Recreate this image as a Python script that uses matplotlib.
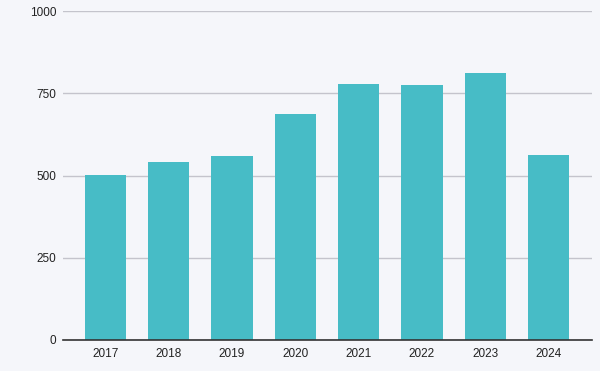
import numpy as np
from matplotlib import pyplot as plt

years = ["2017", "2018", "2019", "2020", "2021", "2022", "2023", "2024"]
values = [501, 541, 559, 687, 778, 775, 811, 562]
y_ticks = [0, 250, 500, 750, 1000]

bg = "#f5f6fa"

fig = plt.figure(figsize=(6, 3.71), dpi=100, facecolor=bg)
ax = fig.add_axes([62.5 / 600, 31 / 371, (591.7 - 62.5) / 600, (340 - 11) / 371])
ax.set_facecolor(bg)

x = np.arange(len(years))
ax.bar(x, values, width=0.65, color="#47bcc6", zorder=3)

ax.set_xlim(-0.675, len(years) - 1 + 0.68)
ax.set_ylim(0, 1000)
ax.set_yticks(y_ticks)
ax.set_yticklabels([str(t) for t in y_ticks])
ax.set_xticks(x)
ax.set_xticklabels(years)

ax.grid(axis="y", color="#c4c4cc", linewidth=1, zorder=0)
for s in ["top", "right", "left"]:
    ax.spines[s].set_visible(False)
ax.spines["bottom"].set_color("#333333")
ax.spines["bottom"].set_linewidth(1.2)
ax.spines["bottom"].set_zorder(4)

ax.tick_params(axis="both", length=0, labelsize=8.5, labelcolor="#222222",
               labelfontfamily="Liberation Sans")
ax.tick_params(axis="y", pad=4.5)
ax.tick_params(axis="x", pad=5.5)

fig.savefig("out.png", dpi=100, facecolor=bg)
